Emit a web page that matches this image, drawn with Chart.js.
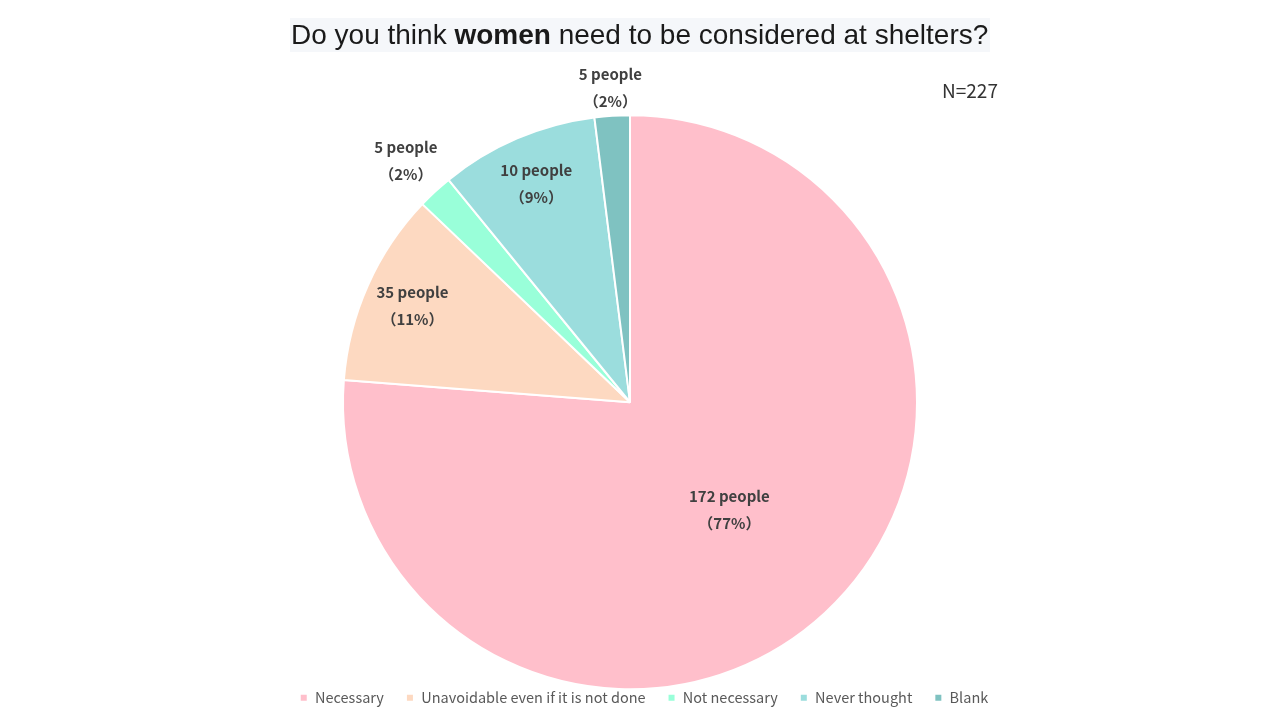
<!DOCTYPE html>
<html>
<head>
<meta charset="utf-8">
<script src="https://cdn.jsdelivr.net/npm/chart.js@4.4.0/dist/chart.umd.min.js"></script>
<style>
  html, body { margin: 0; padding: 0; background: #ffffff; }
  #wrap { width: 1280px; height: 720px; }
</style>
</head>
<body>
<div id="wrap"><canvas id="canvas_pie" width="1280" height="720"></canvas></div>
<script>

// data
var categories = ['Necessary', 'Unavoidable even if it is not done', 'Not necessary', 'Never thought', 'Blank'];
var people = [172, 35, 5, 10, 5];
var percent = [77, 11, 2, 9, 2];
var total_n = 227;

var colors = ['#FFBFCB', '#FDD9C1', '#99FFD9', '#9BDDDD', '#7FC2C1'];

// distance of each label from centre, as part of the radius
var labelDist = [0.51, 0.83, 1.15, 0.83, 1.1];

var titlePlugin = {
  id: 'titleAndN',
  afterDraw: function(chart) {
    var ctx = chart.ctx;
    ctx.save();
    ctx.fillStyle = '#F5F7FA';
    ctx.fillRect(290, 18, 700, 34);

    var parts = [
      ['Do you think ', 'normal'],
      ['women', 'bold'],
      [' need to be considered at shelters?', 'normal']
    ];
    var x = 291;
    ctx.textBaseline = 'middle';
    ctx.fillStyle = '#1a1a1a';
    parts.forEach(function(p) {
      ctx.font = p[1] + ' 28px "Liberation Sans", Arial, sans-serif';
      ctx.fillText(p[0], x, 36);
      x += ctx.measureText(p[0]).width;
    });

    ctx.font = '19px "Noto Sans CJK JP", "Noto Sans", sans-serif';
    ctx.fillStyle = '#333333';
    ctx.textAlign = 'center';
    ctx.fillText('N=' + total_n, 970, 91);
    ctx.restore();
  }
};

// legend in the reference sits a little right of the pie centre
var legendShift = {
  id: 'legendShift',
  afterLayout: function(chart) {
    chart.legend.left += 14;
    chart.legend.right += 14;
  }
};

var labelPlugin = {
  id: 'sliceLabels',
  afterDatasetsDraw: function(chart) {
    var ctx = chart.ctx;
    var meta = chart.getDatasetMeta(0);
    ctx.save();
    ctx.textAlign = 'center';
    ctx.textBaseline = 'middle';
    ctx.fillStyle = '#404040';
    meta.data.forEach(function(arc, i) {
      var mid = (arc.startAngle + arc.endAngle) / 2;
      var r = arc.outerRadius * labelDist[i];
      var cx = arc.x + Math.cos(mid) * r;
      var cy = arc.y + Math.sin(mid) * r;
      ctx.font = 'bold 15px "Noto Sans CJK JP", "Noto Sans", sans-serif';
      ctx.fillText(people[i] + ' people', cx, cy - 13);
      ctx.fillText('（' + percent[i] + '%）', cx, cy + 14);
    });
    ctx.restore();
  }
};

var ctxP = document.getElementById('canvas_pie').getContext('2d');
var myPieChart = new Chart(ctxP, {
  type: 'pie',
  data: {
    labels: categories,
    datasets: [{
      data: percent,
      backgroundColor: colors,
      borderColor: '#ffffff',
      borderWidth: 2,
      radius: 287
    }]
  },
  options: {
    responsive: false,
    animation: false,
    layout: {
      padding: { top: 136, bottom: 5, left: 0, right: 20 }
    },
    plugins: {
      title: { display: false },
      tooltip: { enabled: false },
      legend: {
        position: 'bottom',
        labels: {
          usePointStyle: true,
          pointStyle: 'rect',
          boxWidth: 8,
          boxHeight: 8,
          padding: 22,
          color: '#595959',
          font: { size: 14.5, family: '"Noto Sans CJK JP", "Noto Sans", sans-serif' }
        }
      }
    }
  },
  plugins: [titlePlugin, legendShift, labelPlugin]
});

</script>
</body>
</html>
